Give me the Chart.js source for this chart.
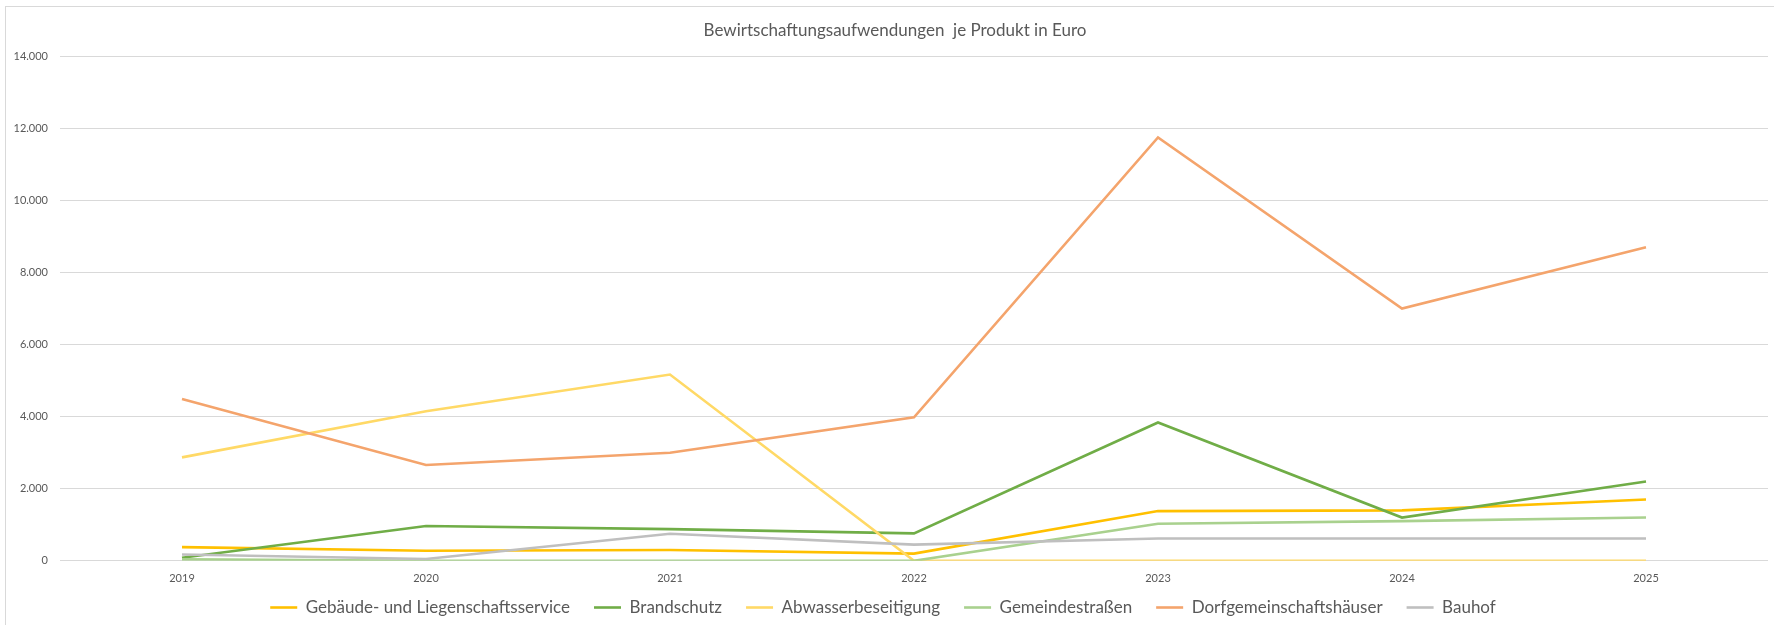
<!DOCTYPE html>
<html lang="de">
<head>
<meta charset="utf-8">
<title>Bewirtschaftungsaufwendungen je Produkt in Euro</title>
<script src="https://cdn.jsdelivr.net/npm/chart.js@4/dist/chart.umd.min.js"></script>
<style>
    html, body { margin: 0; padding: 0; background: #ffffff; }
    #wrap { position: relative; width: 1774px; height: 625px; overflow: hidden; }
    #frame {
        position: absolute; left: 5px; top: 6px; width: 1800px; height: 700px;
        border: 1px solid #d9d9d9; box-sizing: border-box; pointer-events: none;
    }
    canvas { position: absolute; left: 0; top: 0; }
</style>
</head>
<body>
<div id="wrap">
    <canvas id="chart" width="1774" height="625"></canvas>
    <div id="frame"></div>
</div>
<script>
// --- DATA ---
const years = ['2019', '2020', '2021', '2022', '2023', '2024', '2025'];

const gebaeude         = [380, 280, 300, 200, 1380, 1400, 1700];
const brandschutz      = [85, 965, 880, 760, 3840, 1200, 2200];
const abwasser         = [2870, 4150, 5170, 0, 0, 0, 0];
const gemeindestrassen = [40, 0, 0, 0, 1030, 1100, 1200];
const dorfgemeinschaft = [4490, 2660, 3000, 3980, 11750, 7000, 8700];
const bauhof           = [175, 50, 750, 450, 620, 620, 620];

const seriesNames = [
    'Gebäude- und Liegenschaftsservice',
    'Brandschutz',
    'Abwasserbeseitigung',
    'Gemeindestraßen',
    'Dorfgemeinschaftshäuser',
    'Bauhof'
];
const seriesColors = ['#ffc000', '#70ad47', '#ffd966', '#a9d18e', '#f4a46c', '#bfbfbf'];
const seriesData = [gebaeude, brandschutz, abwasser, gemeindestrassen, dorfgemeinschaft, bauhof];

const yMax = 14000;
const yStep = 2000;

const fontFamily = 'Lato, "Open Sans", sans-serif';

// Build datasets from the arrays above (later series drawn on top, like Excel)
const datasets = seriesData.map((values, i) => ({
    label: seriesNames[i],
    data: values,
    borderColor: seriesColors[i],
    backgroundColor: seriesColors[i],
    borderWidth: 2.6,
    pointRadius: 0,
    pointHoverRadius: 0,
    pointStyle: 'line',
    tension: 0,
    order: seriesData.length - i
}));

// Title sits a bit right of the canvas centre in the original,
// and the legend row is tighter than its item gaps, so nudge them after layout
const boxNudge = {
    id: 'boxNudge',
    afterUpdate(chart) {
        const t = chart.titleBlock;
        if (t) {
            t.left += 6;
            t.right += 6;
        }
        const lg = chart.legend;
        if (lg) {
            lg.top -= 21;
            lg.left -= 6;
            lg.right -= 6;
        }
    }
};

const ctx = document.getElementById('chart').getContext('2d');
new Chart(ctx, {
    type: 'line',
    data: { labels: years, datasets: datasets },
    plugins: [boxNudge],
    options: {
        responsive: false,
        animation: false,
        layout: { padding: { top: 8, right: 6, bottom: -8, left: 10 } },
        scales: {
            x: {
                offset: true,
                grid: { display: false, drawTicks: false },
                border: { display: false },
                ticks: {
                    color: '#595959',
                    font: { family: fontFamily, size: 11 },
                    padding: 11,
                    maxRotation: 0
                }
            },
            y: {
                min: 0,
                max: yMax,
                grid: { color: '#d9d9d9', lineWidth: 1, drawTicks: false },
                border: { display: false },
                afterFit: (scale) => { scale.width = 50; },
                ticks: {
                    stepSize: yStep,
                    color: '#595959',
                    padding: 12,
                    font: { family: fontFamily, size: 11 },
                    callback: (v) => v.toLocaleString('de-DE')
                }
            }
        },
        plugins: {
            title: {
                display: true,
                text: 'Bewirtschaftungsaufwendungen  je Produkt in Euro',
                color: '#595959',
                font: { family: fontFamily, size: 17, weight: 'normal' },
                padding: { top: 12, bottom: 16 }
            },
            legend: {
                position: 'bottom',
                maxHeight: 37,
                labels: {
                    color: '#595959',
                    font: { family: fontFamily, size: 17 },
                    usePointStyle: true,
                    pointStyle: 'line',
                    pointStyleWidth: 27,
                    boxHeight: 17,
                    padding: 24,
                    sort: (a, b) => a.datasetIndex - b.datasetIndex
                }
            },
            tooltip: { enabled: false }
        }
    }
});
</script>
</body>
</html>
